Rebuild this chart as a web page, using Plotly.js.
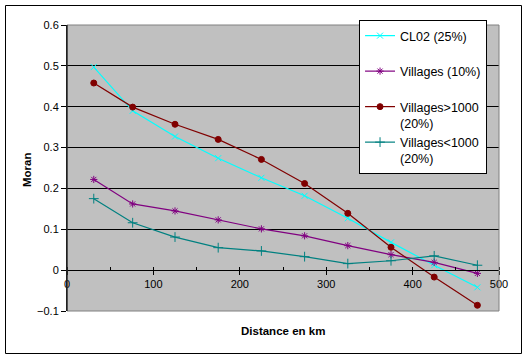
<!DOCTYPE html>
<html>
<head>
<meta charset="utf-8">
<script src="https://cdn.plot.ly/plotly-3.0.1.min.js"></script>
<style>html,body{margin:0;padding:0;background:#fff;}#chart{width:528px;height:359px;}</style>
</head>
<body>
<div id="chart"></div>
<script>
// Data
const distance = [31, 76, 125, 175, 225, 275, 325, 375, 425, 475];
const cl02 = [0.497, 0.390, 0.327, 0.274, 0.226, 0.182, 0.127, 0.068, 0.012, -0.042];
const villages10 = [0.222, 0.162, 0.145, 0.123, 0.101, 0.084, 0.060, 0.038, 0.019, -0.008];
const villagesGt1000 = [0.458, 0.399, 0.357, 0.320, 0.271, 0.212, 0.139, 0.056, -0.017, -0.086];
const villagesLt1000 = [0.175, 0.116, 0.081, 0.055, 0.047, 0.033, 0.016, 0.023, 0.035, 0.012];
const seriesNames = ["CL02 (25%)<br> ", "Villages (10%)<br> ", "Villages>1000<br>(20%)", "Villages<1000<br>(20%)"];
const xTitle = "Distance en km";
const yTitle = "Moran";

const font = "Liberation Sans, Arial, sans-serif";

function tr(y, name, color, symbol, size) {
  return {
    x: distance, y: y, name: name, type: "scatter", mode: "lines+markers",
    line: {color: color, width: 1.2},
    marker: {color: color, symbol: symbol, size: size, line: {color: color, width: 1}}
  };
}

const data = [
  tr(cl02, seriesNames[0], "#00FFFF", "x-thin-open", 6),
  tr(villages10, seriesNames[1], "#800080", "asterisk-open", 6),
  tr(villagesGt1000, seriesNames[2], "#800000", "circle", 6),
  tr(villagesLt1000, seriesNames[3], "#008080", "cross-thin-open", 7)
];

const layout = {
  width: 528, height: 359,
  margin: {l: 67, r: 29, t: 25, b: 48, pad: 0},
  paper_bgcolor: "#FFFFFF",
  plot_bgcolor: "#C0C0C0",
  font: {family: font, size: 11, color: "#000"},
  showlegend: true,
  legend: {
    x: 0.676, y: (311 - 20) / 286, xanchor: "left", yanchor: "top",
    bgcolor: "#FFFFFF", bordercolor: "#000000", borderwidth: 1,
    font: {family: font, size: 12.5, color: "#000"},
    valign: "top", traceorder: "normal", tracegroupgap: 0
  },
  xaxis: {
    range: [0, 500], dtick: 100, tick0: 0,
    anchor: "free", position: 1/7,
    showgrid: false, zeroline: false,
    showline: true, linecolor: "#000", linewidth: 1,
    ticks: "outside", ticklen: 4, tickcolor: "#000",
    minor: {dtick: 50, ticks: "inside", ticklen: 3, tickcolor: "#000"},
    tickfont: {family: font, size: 11, color: "#000"}
  },
  yaxis: {
    range: [-0.1, 0.6], dtick: 0.1, tick0: 0,
    showgrid: true, gridcolor: "#000", gridwidth: 1,
    zeroline: false,
    showline: true, linecolor: "#000", linewidth: 1,
    ticks: "outside", ticklen: 5, tickcolor: "#000",
    tickfont: {family: font, size: 11, color: "#000"}
  },
  shapes: [
    {type: "rect", xref: "paper", yref: "paper", x0: 0, x1: 1, y0: 0, y1: 1,
     line: {color: "#808080", width: 1}, layer: "above"},
    {type: "line", xref: "paper", yref: "paper", x0: 0, x1: 0, y0: 0, y1: 1,
     line: {color: "#000", width: 1}, layer: "above"},
    {type: "rect", xref: "paper", yref: "paper",
     x0: (5.5 - 67) / 432, x1: (521.5 - 67) / 432,
     y0: (311 - 353.5) / 286, y1: (311 - 5.5) / 286,
     line: {color: "#000", width: 1}}
  ],
  annotations: [
    {text: "<b>" + xTitle + "</b>", xref: "paper", yref: "paper",
     x: 0.5, y: (311 - 331) / 286, xanchor: "center", yanchor: "middle",
     showarrow: false, font: {family: font, size: 11.5, color: "#000"}},
    {text: "<b>" + yTitle + "</b>", xref: "paper", yref: "paper",
     x: (27 - 67) / 432, y: (311 - 170) / 286, xanchor: "center", yanchor: "middle",
     textangle: -90, showarrow: false, font: {family: font, size: 11.5, color: "#000"}}
  ]
};

Plotly.newPlot("chart", data, layout, {staticPlot: true, displayModeBar: false});
</script>
</body>
</html>
